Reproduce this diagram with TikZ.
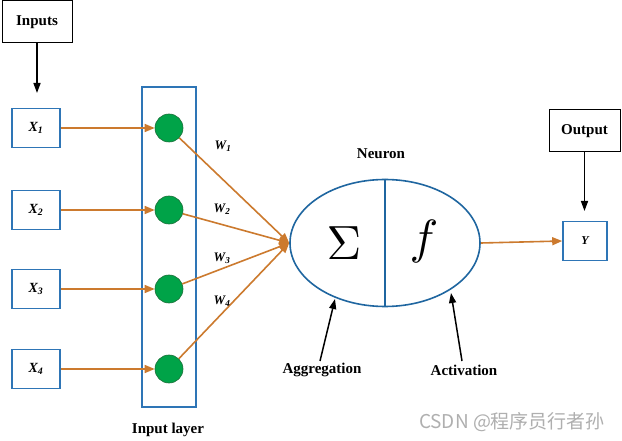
\documentclass[tikz,border=0pt]{standalone}
\usepackage{fontspec}
\setmainfont{Liberation Serif}
\newfontfamily\cjkfont{Noto Sans CJK SC}
\usetikzlibrary{arrows.meta,shapes.geometric}

\definecolor{boxblue}{RGB}{46,117,182}
\definecolor{ringblue}{RGB}{31,102,160}
\definecolor{wire}{RGB}{204,122,46}
\definecolor{cellgreen}{RGB}{0,163,72}
\definecolor{celledge}{RGB}{25,110,55}
\definecolor{markgray}{RGB}{175,175,175}

\begin{document}
\begin{tikzpicture}[x=1pt,y=-1pt,
  xbox/.style={draw=boxblue,line width=1.6pt,minimum width=48pt,minimum height=39pt,
    inner sep=0pt,font=\fontsize{14}{14}\selectfont\bfseries\itshape},
  tagbox/.style={draw=black,line width=1pt,minimum width=70pt,minimum height=42pt,
    inner sep=0pt,font=\fontsize{15}{15}\selectfont\bfseries},
  cell/.style={circle,fill=cellgreen,draw=celledge,line width=0.6pt,minimum size=28pt,inner sep=0pt},
  wireline/.style={draw=wire,line width=1.6pt,-{Triangle[length=10pt,width=8pt]}},
  pointer/.style={draw=black,line width=1.5pt,-{Triangle[length=10pt,width=7pt]}},
  lbl/.style={font=\fontsize{15}{15}\selectfont\bfseries,inner sep=0pt},
  wlbl/.style={font=\fontsize{13}{13}\selectfont\bfseries\itshape,inner sep=0pt}]

\useasboundingbox (0,0) rectangle (622,441);
\fill[white] (0,0) rectangle (622,441);

% input and output tags
\node[tagbox] (inputs) at (37,22) {Inputs};
\coordinate (inTip) at (37,93);
\draw[pointer] (inputs.south) -- (inTip);

\node[tagbox,minimum width=71pt] (output) at (584.5,131) {Output};
\coordinate (outTip) at (584.5,211);
\draw[pointer] (output.south) -- (outTip);

% input values
\node[xbox] (x1) at (36,128) {X\textsubscript{1}};
\node[xbox] (x2) at (36,210) {X\textsubscript{2}};
\node[xbox] (x3) at (36,289) {X\textsubscript{3}};
\node[xbox] (x4) at (36,369) {X\textsubscript{4}};

% input layer
\node[draw=boxblue,line width=1.6pt,minimum width=54pt,minimum height=320pt,inner sep=0pt]
  (layer) at (169,247) {};
\node[cell] (c1) at (169,128) {};
\node[cell] (c2) at (169,210) {};
\node[cell] (c3) at (169,289) {};
\node[cell] (c4) at (169,369) {};
\node[lbl] (layerlbl) at (168,430) {Input layer};

\foreach \i in {1,...,4} \draw[wireline] (x\i) -- (c\i);

% neuron: aggregation half and activation half
\node[ellipse,draw=ringblue,line width=1.6pt,minimum width=190pt,minimum height=127pt,inner sep=0pt]
  (neuron) at (385,243) {};
\draw[ringblue,line width=1.6pt] (neuron.north) -- (neuron.south);
\node[inner sep=0pt] (sum) at (344,243) {\scalebox{4.8}{$\Sigma$}};
\node[inner sep=0pt] (act) at (424,242) {\scalebox{4.8}{$f$}};
\node[lbl] (neuronlbl) at (381,154) {Neuron};

% weighted connections
\foreach \i in {1,...,4} \draw[wireline] (c\i) -- (neuron.west);
\node[wlbl] (w1) at (223,146) {W\textsubscript{1}};
\node[wlbl] (w2) at (222,209) {W\textsubscript{2}};
\node[wlbl] (w3) at (222,258) {W\textsubscript{3}};
\node[wlbl] (w4) at (222,301) {W\textsubscript{4}};

% output value
\node[xbox,minimum width=44pt,font=\fontsize{12}{12}\selectfont\bfseries\itshape] (y) at (585,241) {Y};
\draw[wireline] (neuron.east) -- (y.west);

% stage annotations
\node[lbl] (aggr) at (322,370) {Aggregation};
\coordinate (aggTip) at (335,299);
\draw[pointer] ([xshift=-2pt,yshift=9pt]aggr.center) -- (aggTip);

\node[lbl] (actlbl) at (464,370) {Activation};
\coordinate (actTip) at (451,293);
\draw[pointer] ([xshift=-2pt,yshift=9pt]actlbl.center) -- (actTip);

% watermark
\node[inner sep=0pt,text=markgray,font=\cjkfont\fontsize{19}{19}\selectfont] (mark) at (512,422) {CSDN @程序员行者孙};
\end{tikzpicture}
\end{document}
